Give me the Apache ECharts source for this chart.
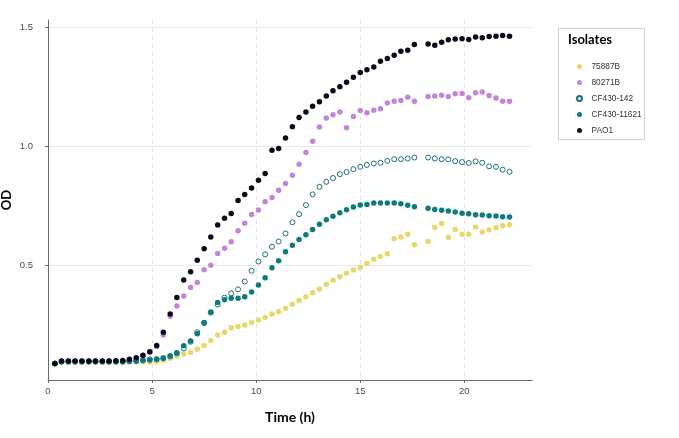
<!DOCTYPE html>
<html>
<head>
<meta charset="utf-8">
<title>Growth curves</title>
<script src="https://cdn.jsdelivr.net/npm/echarts@6/dist/echarts.min.js"></script>
<style>
  * {margin: 0; padding: 0;}
  html, body {width: 679px; height: 438px; background: #fff;}
  #chart {width: 679px; height: 438px;}
</style>
</head>
<body>
<div id="chart"></div>
<script>
// sampling times (h); the read at ~17.9 h is missing in the plot
var times = [0.33, 0.65, 0.98, 1.30, 1.63, 1.96, 2.28, 2.61, 2.93, 3.26,
  3.59, 3.91, 4.24, 4.56, 4.89, 5.22, 5.54, 5.87, 6.19, 6.52,
  6.85, 7.17, 7.50, 7.82, 8.15, 8.48, 8.80, 9.13, 9.45, 9.78,
  10.11, 10.43, 10.76, 11.08, 11.41, 11.74, 12.06, 12.39, 12.71, 13.04,
  13.37, 13.69, 14.02, 14.34, 14.67, 15.00, 15.32, 15.65, 15.97, 16.30,
  16.63, 16.95, 17.28, 17.60, 18.26, 18.58, 18.91, 19.23, 19.56, 19.89,
  20.21, 20.54, 20.86, 21.19, 21.52, 21.84, 22.17];

var od75887B = [0.086, 0.092, 0.092, 0.092, 0.092, 0.092, 0.092, 0.092, 0.092, 0.092,
  0.092, 0.093, 0.093, 0.093, 0.093, 0.095, 0.099, 0.108, 0.118, 0.126,
  0.133, 0.146, 0.162, 0.183, 0.206, 0.218, 0.237, 0.242, 0.248, 0.259,
  0.269, 0.280, 0.294, 0.304, 0.319, 0.335, 0.351, 0.367, 0.384, 0.399,
  0.419, 0.436, 0.451, 0.466, 0.479, 0.490, 0.507, 0.525, 0.536, 0.548,
  0.611, 0.618, 0.630, 0.585, 0.599, 0.658, 0.675, 0.616, 0.650, 0.630,
  0.630, 0.660, 0.639, 0.648, 0.657, 0.665, 0.669];

var od80271B = [0.086, 0.096, 0.096, 0.096, 0.096, 0.096, 0.096, 0.096, 0.096, 0.096,
  0.096, 0.100, 0.108, 0.118, 0.134, 0.158, 0.206, 0.285, 0.328, 0.370,
  0.406, 0.427, 0.480, 0.499, 0.549, 0.571, 0.598, 0.644, 0.676, 0.713,
  0.731, 0.766, 0.784, 0.814, 0.843, 0.878, 0.924, 0.973, 1.020, 1.080,
  1.118, 1.132, 1.143, 1.077, 1.124, 1.150, 1.140, 1.151, 1.157, 1.181,
  1.189, 1.192, 1.205, 1.188, 1.209, 1.211, 1.214, 1.209, 1.220, 1.221,
  1.203, 1.224, 1.227, 1.213, 1.202, 1.189, 1.188];

var odCF430_142 = [0.086, 0.094, 0.094, 0.094, 0.094, 0.094, 0.094, 0.094, 0.094, 0.094,
  0.094, 0.097, 0.097, 0.101, 0.104, 0.105, 0.109, 0.116, 0.129, 0.150,
  0.178, 0.218, 0.256, 0.300, 0.334, 0.363, 0.381, 0.398, 0.431, 0.476,
  0.515, 0.545, 0.577, 0.599, 0.633, 0.680, 0.714, 0.752, 0.797, 0.829,
  0.850, 0.866, 0.882, 0.891, 0.903, 0.913, 0.921, 0.927, 0.930, 0.938,
  0.945, 0.945, 0.948, 0.952, 0.952, 0.948, 0.945, 0.944, 0.937, 0.933,
  0.929, 0.936, 0.930, 0.915, 0.913, 0.901, 0.892];

var odCF430_11621 = [0.086, 0.095, 0.095, 0.095, 0.095, 0.095, 0.095, 0.095, 0.095, 0.095,
  0.095, 0.095, 0.097, 0.099, 0.101, 0.103, 0.108, 0.119, 0.132, 0.161,
  0.181, 0.211, 0.259, 0.303, 0.343, 0.354, 0.361, 0.361, 0.367, 0.387,
  0.416, 0.447, 0.489, 0.518, 0.556, 0.583, 0.608, 0.627, 0.649, 0.672,
  0.691, 0.705, 0.720, 0.732, 0.744, 0.752, 0.755, 0.761, 0.761, 0.761,
  0.761, 0.758, 0.751, 0.745, 0.739, 0.734, 0.730, 0.727, 0.723, 0.718,
  0.716, 0.711, 0.710, 0.707, 0.706, 0.703, 0.702];

var odPAO1 = [0.086, 0.097, 0.097, 0.097, 0.097, 0.097, 0.097, 0.097, 0.097, 0.098,
  0.099, 0.104, 0.110, 0.121, 0.136, 0.162, 0.218, 0.294, 0.364, 0.437,
  0.472, 0.520, 0.569, 0.618, 0.668, 0.697, 0.717, 0.771, 0.797, 0.824,
  0.856, 0.885, 0.983, 0.990, 1.034, 1.081, 1.120, 1.143, 1.168, 1.186,
  1.211, 1.233, 1.249, 1.268, 1.289, 1.309, 1.321, 1.332, 1.357, 1.368,
  1.382, 1.399, 1.403, 1.427, 1.429, 1.424, 1.437, 1.447, 1.450, 1.451,
  1.448, 1.459, 1.455, 1.461, 1.462, 1.465, 1.462];

var isolates = ['75887B', '80271B', 'CF430-142', 'CF430-11621', 'PAO1'];
var xTicks = [0, 5, 10, 15, 20];
var yTicks = [0.5, 1.0, 1.5];

function pairs(vals) {
  var out = [];
  for (var i = 0; i < vals.length; i++) out.push([times[i], vals[i]]);
  return out;
}

var chart = echarts.init(document.getElementById('chart'), null, {renderer: 'canvas'});

var tickFont = {color: '#4d4d4d', fontSize: 9.5, fontFamily: 'Liberation Sans'};

var option = {
  animation: false,
  backgroundColor: '#fff',
  grid: {left: 48, right: 147, top: 20, bottom: 58, containLabel: false, outerBoundsMode: 'none'},
  xAxis: {
    type: 'value',
    min: 0, max: 23.25,
    name: 'Time (h)',
    nameLocation: 'middle',
    nameGap: 30,
    nameTextStyle: {fontFamily: 'Lato', fontWeight: 'bold', fontSize: 14, color: '#000'},
    axisLine: {show: true, lineStyle: {color: '#6b6b6b', width: 1}},
    axisTick: {show: true, length: 3, customValues: xTicks, lineStyle: {color: '#6b6b6b'}},
    axisLabel: Object.assign({margin: 6, customValues: xTicks}, tickFont),
    splitLine: {show: true, lineStyle: {color: '#e6e6e6', type: [4, 4], width: 1}}
  },
  yAxis: [
    {
      type: 'value',
      position: 'left',
      min: 0.017, max: 1.53,
      offset: 10,
      axisLine: {show: false},
      axisTick: {show: true, length: 3, customValues: yTicks, lineStyle: {color: '#6b6b6b'}},
      axisLabel: Object.assign({margin: 5, customValues: yTicks,
        formatter: function (v) { return v.toFixed(1); }}, tickFont),
      splitLine: {show: true, lineStyle: {color: '#e8e8e8', width: 1}}
    },
    {
      type: 'value',
      position: 'left',
      offset: 0,
      min: 0.017, max: 1.53,
      name: 'OD',
      nameLocation: 'middle',
      nameGap: 35,
      nameTextStyle: {fontFamily: 'Lato', fontWeight: 'bold', fontSize: 13, color: '#000'},
      axisLine: {show: true, onZero: false, lineStyle: {color: '#6b6b6b', width: 1}},
      axisTick: {show: false},
      axisLabel: {show: false},
      splitLine: {show: false}
    }
  ],
  legend: {
    orient: 'vertical',
    left: 571, top: 56,
    itemWidth: 14, itemHeight: 5,
    itemGap: 5,
    textStyle: {fontFamily: 'Liberation Sans', fontSize: 8.3, color: '#333', lineHeight: 11},
    data: isolates
  },
  graphic: [
    {type: 'rect', left: 558, top: 28, z: -1,
      shape: {width: 86, height: 111},
      style: {fill: '#fff', stroke: '#cfcfcf', lineWidth: 1}},
    {type: 'text', left: 568, top: 33,
      style: {text: 'Isolates', font: 'bold 13px Lato', fill: '#000'}}
  ],
  series: [
    {name: isolates[0], type: 'scatter', data: pairs(od75887B), symbol: 'circle', symbolSize: 5.5,
      itemStyle: {color: '#e6d96c', opacity: 1}},
    {name: isolates[1], type: 'scatter', data: pairs(od80271B), symbol: 'circle', symbolSize: 5.5,
      itemStyle: {color: '#c386d6', opacity: 1}},
    {name: isolates[2], type: 'scatter', data: pairs(odCF430_142), symbol: 'circle', symbolSize: 5,
      itemStyle: {color: '#ffffff', borderColor: '#1c6f78', borderWidth: 1, opacity: 1}},
    {name: isolates[3], type: 'scatter', data: pairs(odCF430_11621), symbol: 'circle', symbolSize: 5.5,
      itemStyle: {color: '#0f7a7a', opacity: 1}},
    {name: isolates[4], type: 'scatter', data: pairs(odPAO1), symbol: 'circle', symbolSize: 5.5,
      itemStyle: {color: '#0b0a1d', opacity: 1}}
  ]
};

chart.setOption(option);
</script>
</body>
</html>
